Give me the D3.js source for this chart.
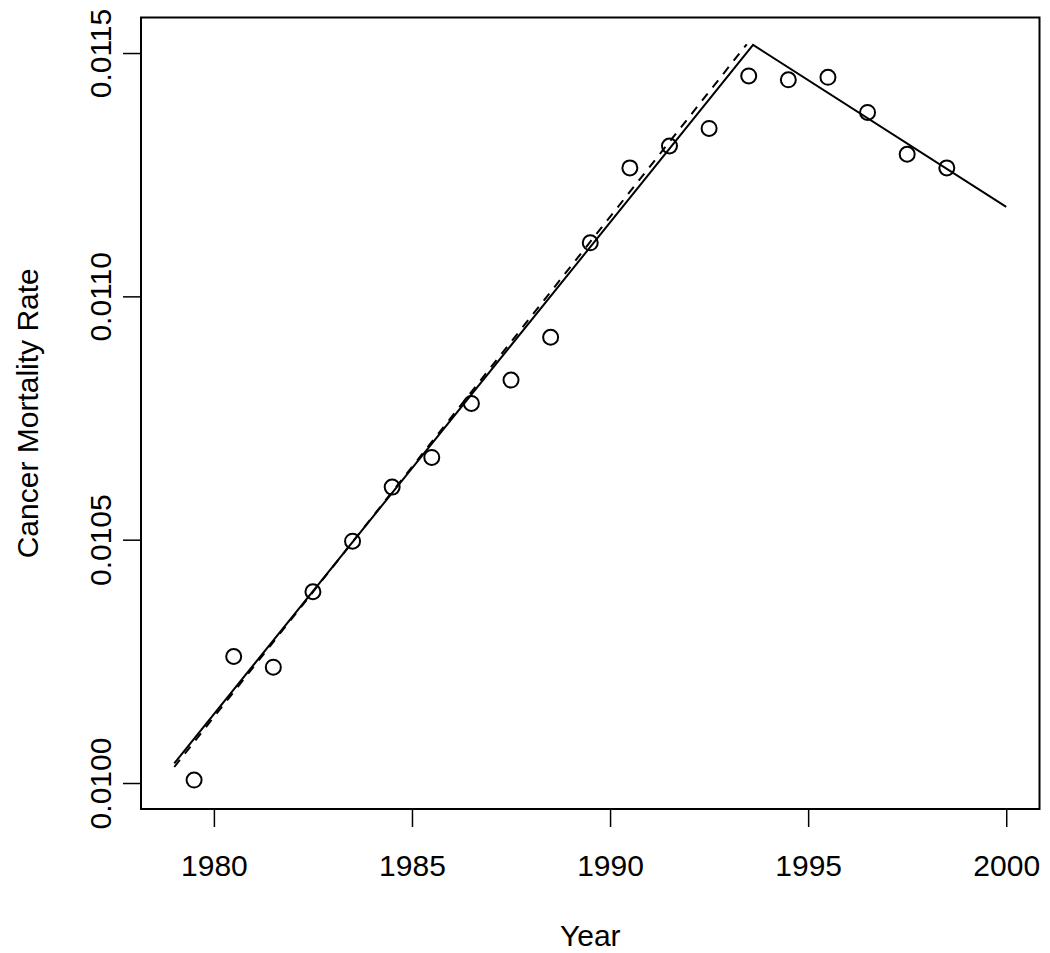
<!DOCTYPE html>
<html>
<head>
<meta charset="utf-8">
<script src="https://cdn.jsdelivr.net/npm/d3@7"></script>
<style>
  body { margin: 0; background: #fff; }
  text { font-family: "Liberation Sans", Arial, sans-serif; fill: #000; }
</style>
</head>
<body>
<script>
// observed rates, plotted at mid-year
var years = [1979.5, 1980.5, 1981.5, 1982.5, 1983.5, 1984.5, 1985.5, 1986.5, 1987.5, 1988.5,
  1989.5, 1990.5, 1991.5, 1992.5, 1993.5, 1994.5, 1995.5, 1996.5, 1997.5, 1998.5];
var rates = [0.010006, 0.010260, 0.010238, 0.010393, 0.010497, 0.010608, 0.010669, 0.010780,
  0.010828, 0.010916, 0.011110, 0.011264, 0.011309, 0.011345, 0.011453, 0.011445,
  0.011450, 0.011378, 0.011292, 0.011264];

// joinpoint fit (solid) and single segment fit (dashed)
var fitYears = [1979, 1993.61, 2000];
var fitRates = [0.0100405, 0.0115166, 0.011184];
var lineYears = [1979, 1993.45];
var lineRates = [0.0100329, 0.0115180];

var xTicks = [1980, 1985, 1990, 1995, 2000];
var yTicks = [0.0100, 0.0105, 0.0110, 0.0115];

var W = 1050, H = 953;
var plotL = 141, plotT = 17.5, plotR = 1039.5, plotB = 809;

var svg = d3.select('body').append('svg')
  .attr('width', W)
  .attr('height', H);

var x = d3.scaleLinear().domain([1978.16, 2000.84]).range([plotL, plotR]);
var y = d3.scaleLinear().domain([0.0099466, 0.011573]).range([plotB, plotT]);

// axes
var xAxis = svg.append('g')
  .attr('transform', 'translate(0,' + plotB + ')')
  .call(d3.axisBottom(x).tickValues(xTicks).tickSize(18).tickPadding(0).tickFormat(d3.format('d')));
var yAxis = svg.append('g')
  .attr('transform', 'translate(' + plotL + ',0)')
  .call(d3.axisLeft(y).tickValues(yTicks).tickSize(18).tickPadding(0).tickFormat(d3.format('.4f')));

[xAxis, yAxis].forEach(function (g) {
  g.select('.domain').remove();
  g.selectAll('.tick line').attr('stroke', '#000').attr('stroke-width', 1.5);
  g.selectAll('.tick text').attr('font-size', 30).attr('fill', '#000');
});
xAxis.selectAll('.tick text').attr('y', 67).attr('dy', 0);
yAxis.selectAll('.tick text')
  .attr('x', 0).attr('y', 0).attr('dy', 0)
  .attr('text-anchor', 'middle')
  .attr('transform', 'translate(-30,0) rotate(-90)');

// box
svg.append('rect')
  .attr('x', plotL).attr('y', plotT)
  .attr('width', plotR - plotL).attr('height', plotB - plotT)
  .attr('fill', 'none').attr('stroke', '#000').attr('stroke-width', 2);

var line = d3.line()
  .x(function (d) { return x(d[0]); })
  .y(function (d) { return y(d[1]); });

svg.append('path')
  .datum(d3.zip(lineYears, lineRates))
  .attr('d', line)
  .attr('fill', 'none').attr('stroke', '#000').attr('stroke-width', 2)
  .attr('stroke-dasharray', '9,8');

svg.append('path')
  .datum(d3.zip(fitYears, fitRates))
  .attr('d', line)
  .attr('fill', 'none').attr('stroke', '#000').attr('stroke-width', 2);

svg.selectAll('circle.pt')
  .data(d3.zip(years, rates))
  .enter().append('circle')
  .attr('class', 'pt')
  .attr('cx', function (d) { return x(d[0]); })
  .attr('cy', function (d) { return y(d[1]); })
  .attr('r', 7.5)
  .attr('fill', 'none').attr('stroke', '#000').attr('stroke-width', 2);

// axis titles
svg.append('text')
  .attr('x', (plotL + plotR) / 2).attr('y', 946)
  .attr('text-anchor', 'middle').attr('font-size', 30)
  .text('Year');
svg.append('text')
  .attr('transform', 'translate(38,' + ((plotT + plotB) / 2) + ') rotate(-90)')
  .attr('text-anchor', 'middle').attr('font-size', 30)
  .text('Cancer Mortality Rate');
</script>
</body>
</html>
